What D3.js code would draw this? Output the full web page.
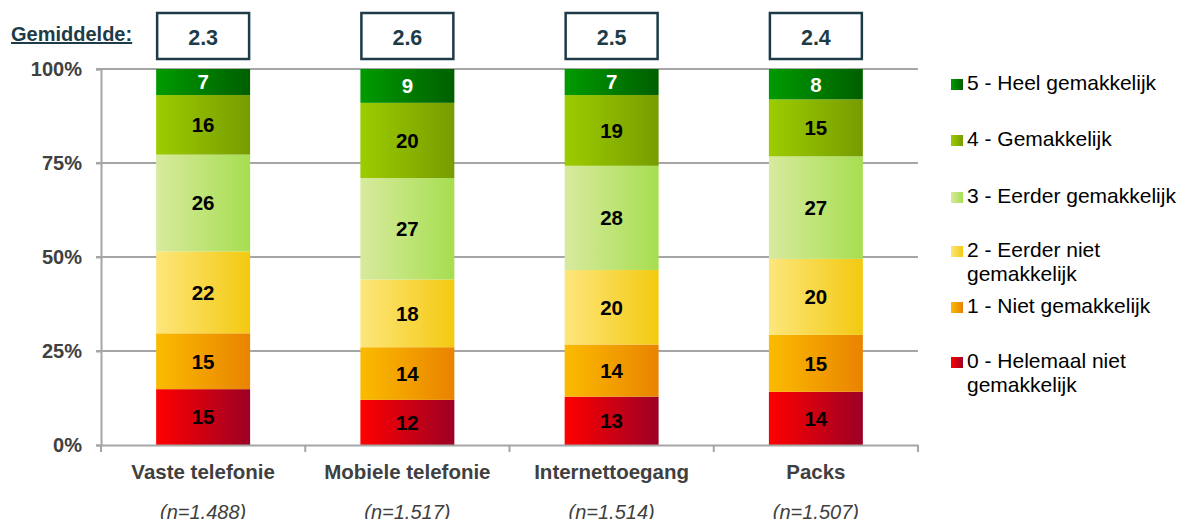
<!DOCTYPE html>
<html lang="nl">
<head>
<meta charset="utf-8">
<title>Gemakkelijkheid</title>
<script src="https://d3js.org/d3.v7.min.js"></script>
<style>
body { margin: 0; background: #fff; }
svg { font-family: "Liberation Sans", Arial, sans-serif; }
</style>
</head>
<body>
<script>

var categories = ["Vaste telefonie", "Mobiele telefonie", "Internettoegang", "Packs"];
var sampleSizes = ["(n=1.488)", "(n=1.517)", "(n=1.514)", "(n=1.507)"];
var averages = ["2.3", "2.6", "2.5", "2.4"];
var levels = ["0 - Helemaal niet gemakkelijk", "1 - Niet gemakkelijk", "2 - Eerder niet gemakkelijk",
              "3 - Eerder gemakkelijk", "4 - Gemakkelijk", "5 - Heel gemakkelijk"];
// values per category, from level 0 up to level 5
var level0 = [15, 12, 13, 14];
var level1 = [15, 14, 14, 15];
var level2 = [22, 18, 20, 20];
var level3 = [26, 27, 28, 27];
var level4 = [16, 20, 19, 15];
var level5 = [7, 9, 7, 8];
var yTicks = [0, 0.25, 0.5, 0.75, 1];

var series = [level0, level1, level2, level3, level4, level5];
var gradColors = [
  ["#ff0000", "#9c0025"],
  ["#fbbb00", "#e98300"],
  ["#fde67c", "#f3c910"],
  ["#d8ea9e", "#a6de50"],
  ["#9ccc00", "#779c00"],
  ["#009b00", "#005f00"]
];
var legendLines = [
  ["0 - Helemaal niet", "gemakkelijk"],
  ["1 - Niet gemakkelijk"],
  ["2 - Eerder niet", "gemakkelijk"],
  ["3 - Eerder gemakkelijk"],
  ["4 - Gemakkelijk"],
  ["5 - Heel gemakkelijk"]
];
var legendY = [368, 313, 257, 203, 146, 90];   // baselines

var W = 1183, H = 519;
var margin = {top: 69, left: 101, right: 265, bottom: 74};
var width = W - margin.left - margin.right,
    height = H - margin.top - margin.bottom;

var svg = d3.select("body").append("svg")
    .attr("width", W)
    .attr("height", H);

var defs = svg.append("defs");
gradColors.forEach(function(c, i) {
  var g = defs.append("linearGradient")
      .attr("id", "grad" + i)
      .attr("x1", "0%").attr("x2", "100%").attr("y1", "0%").attr("y2", "0%");
  g.append("stop").attr("offset", "0%").attr("stop-color", c[0]);
  g.append("stop").attr("offset", "100%").attr("stop-color", c[1]);
});

var g = svg.append("g")
    .attr("transform", "translate(" + margin.left + "," + margin.top + ")");

var x = d3.scaleBand()
    .domain(categories)
    .range([0, width])
    .paddingInner(0.54)
    .paddingOuter(0.27);

var y = d3.scaleLinear()
    .domain([0, 1])
    .range([height, 0]);

// gridlines
g.selectAll(".grid")
  .data(yTicks.slice(1))
  .enter().append("line")
    .attr("x1", -5).attr("x2", width)
    .attr("y1", function(d) { return y(d); })
    .attr("y2", function(d) { return y(d); })
    .attr("stroke", "#a6a6a6")
    .attr("stroke-width", 2);

// stacked data, normalised to 100%
var rows = categories.map(function(c, i) {
  var vals = series.map(function(s) { return s[i]; });
  var total = d3.sum(vals);
  var cum = 0;
  return vals.map(function(v, k) {
    var seg = {cat: c, level: k, value: v, y0: cum / total, y1: (cum + v) / total};
    cum += v;
    return seg;
  });
});
var segs = [].concat.apply([], rows);

g.selectAll(".seg")
  .data(segs)
  .enter().append("rect")
    .attr("x", function(d) { return x(d.cat); })
    .attr("width", x.bandwidth())
    .attr("y", function(d) { return y(d.y1); })
    .attr("height", function(d) { return y(d.y0) - y(d.y1); })
    .attr("fill", function(d) { return "url(#grad" + d.level + ")"; });

g.selectAll(".seglabel")
  .data(segs)
  .enter().append("text")
    .attr("x", function(d) { return x(d.cat) + x.bandwidth() / 2; })
    .attr("y", function(d) { return y((d.y0 + d.y1) / 2); })
    .attr("dy", "0.36em")
    .attr("text-anchor", "middle")
    .style("font-size", "20.5px")
    .style("font-weight", "bold")
    .attr("fill", function(d) { return d.level === 5 ? "#fff" : "#000"; })
    .text(function(d) { return d.value; });

// y axis
var yAxis = g.append("g")
    .call(d3.axisLeft(y).tickValues(yTicks).tickFormat(d3.format(".0%")).tickSize(5).tickPadding(14));
yAxis.select(".domain").attr("stroke", "#a6a6a6").attr("stroke-width", 2);
yAxis.selectAll(".tick line").attr("stroke", "#a6a6a6").attr("stroke-width", 2);
yAxis.selectAll(".tick text")
    .attr("fill", "#404040")
    .style("font-size", "20px")
    .style("font-weight", "bold")
    .style("font-family", "Liberation Sans, Arial, sans-serif");

// x axis
var xAxis = g.append("g")
    .attr("transform", "translate(0," + height + ")")
    .call(d3.axisBottom(x).tickSize(0));
xAxis.select(".domain").attr("stroke", "#a6a6a6").attr("stroke-width", 2);
xAxis.selectAll(".tick text")
    .attr("y", 34)
    .attr("dy", 0)
    .attr("fill", "#404040")
    .style("font-size", "20.5px")
    .style("font-weight", "bold")
    .style("font-family", "Liberation Sans, Arial, sans-serif");

g.selectAll(".xtick")
  .data(d3.range(categories.length + 1))
  .enter().append("line")
    .attr("x1", function(i) { return i * width / categories.length; })
    .attr("x2", function(i) { return i * width / categories.length; })
    .attr("y1", height)
    .attr("y2", height + 7)
    .attr("stroke", "#a6a6a6")
    .attr("stroke-width", 2);

g.selectAll(".ntext")
  .data(categories)
  .enter().append("text")
    .attr("x", function(d) { return x(d) + x.bandwidth() / 2; })
    .attr("y", height + 74)
    .attr("text-anchor", "middle")
    .attr("fill", "#404040")
    .style("font-size", "20px")
    .style("font-style", "italic")
    .text(function(d, i) { return sampleSizes[i]; });

// average boxes
var avg = g.selectAll(".avg")
  .data(categories)
  .enter().append("g");
avg.append("rect")
    .attr("x", function(d) { return x(d) + 1; })
    .attr("y", 13 - margin.top)
    .attr("width", x.bandwidth() - 2)
    .attr("height", 46)
    .attr("fill", "#fff")
    .attr("stroke", "#1d3c48")
    .attr("stroke-width", 2.5);
avg.append("text")
    .attr("x", function(d) { return x(d) + x.bandwidth() / 2; })
    .attr("y", 45 - margin.top)
    .attr("text-anchor", "middle")
    .attr("fill", "#1d3c48")
    .style("font-size", "21.5px")
    .style("font-weight", "bold")
    .text(function(d, i) { return averages[i]; });

svg.append("text")
    .attr("x", 11)
    .attr("y", 41)
    .attr("fill", "#1d3c48")
    .style("font-size", "20px")
    .style("font-weight", "bold")
    .style("text-decoration", "underline")
    .text("Gemiddelde:");

// legend
var legend = svg.append("g");
levels.forEach(function(l, i) {
  var lg = legend.append("g").attr("transform", "translate(951," + legendY[i] + ")");
  lg.append("rect")
      .attr("x", 0).attr("y", -11)
      .attr("width", 12).attr("height", 11)
      .attr("fill", "url(#grad" + i + ")");
  legendLines[i].forEach(function(t, j) {
    lg.append("text")
        .attr("x", 16)
        .attr("y", j * 24)
        .attr("fill", "#000")
        .style("font-size", "21px")
        .text(t);
  });
});

</script>
</body>
</html>
